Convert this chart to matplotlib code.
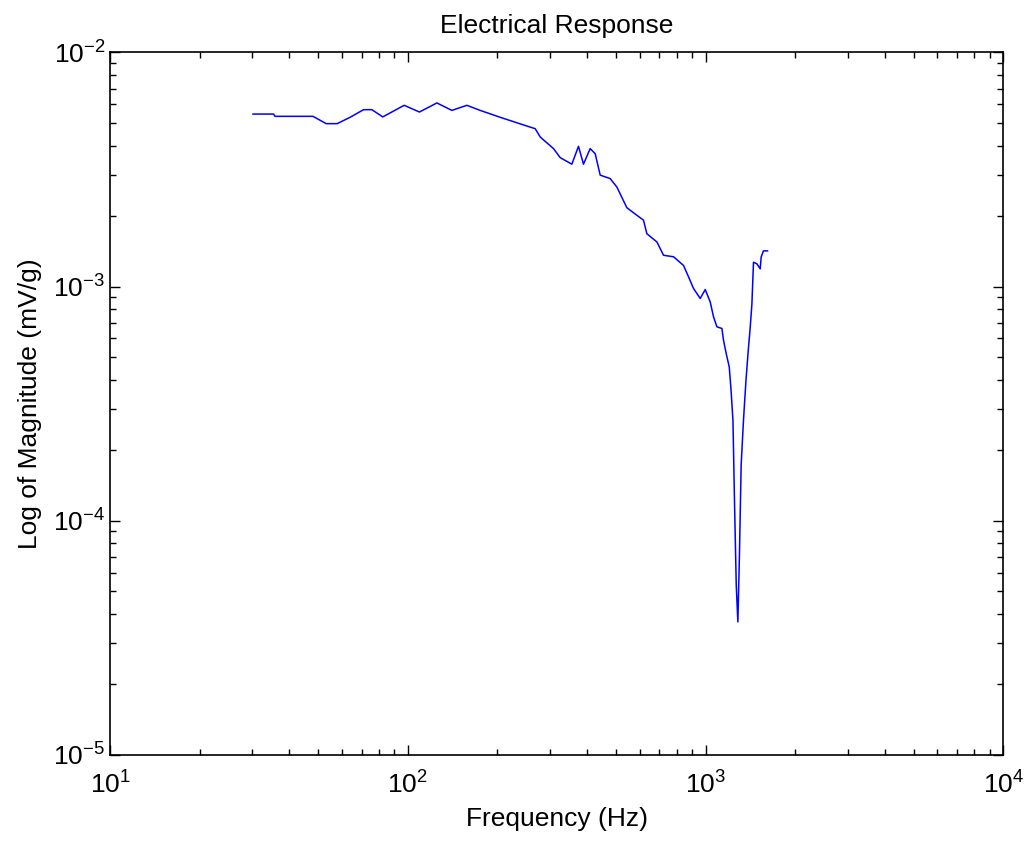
import numpy as np
import matplotlib
matplotlib.use('Agg')
import matplotlib.pyplot as plt

# frequency (Hz) and magnitude (mV/g)
freq = [30.2, 35.4, 35.8, 48.0, 53.2, 57.9, 64.0, 71.0, 75.7, 82.4,
        97.2, 109.4, 125.2, 140.6, 157.9, 175.0, 204.3, 238.4, 267.8, 278.4,
        308.6, 325.0, 355.6, 374.3, 389.0, 409.7, 425.9, 442.7, 478.2, 503.6,
        544.2, 580.3, 618.8, 635.3, 686.5, 722.5, 780.6, 843.4, 876.7, 911.2,
        959.6, 997.5, 1036.8, 1063.7, 1092, 1135, 1149, 1173, 1201, 1217,
        1236, 1251, 1268, 1284, 1300, 1317, 1341, 1366, 1388, 1413,
        1431, 1449, 1488, 1526, 1538, 1565, 1615]
mag = [5.45e-3, 5.45e-3, 5.33e-3, 5.33e-3, 4.96e-3, 4.96e-3, 5.28e-3, 5.69e-3, 5.69e-3, 5.30e-3,
       5.94e-3, 5.56e-3, 6.08e-3, 5.65e-3, 5.94e-3, 5.65e-3, 5.28e-3, 4.95e-3, 4.72e-3, 4.35e-3,
       3.88e-3, 3.55e-3, 3.33e-3, 3.97e-3, 3.33e-3, 3.88e-3, 3.69e-3, 2.99e-3, 2.89e-3, 2.66e-3,
       2.17e-3, 2.04e-3, 1.92e-3, 1.68e-3, 1.55e-3, 1.36e-3, 1.34e-3, 1.23e-3, 1.10e-3, 9.81e-4,
       8.89e-4, 9.71e-4, 8.59e-4, 7.42e-4, 6.73e-4, 6.62e-4, 5.90e-4, 5.18e-4, 4.54e-4, 3.67e-4,
       2.69e-4, 1.205e-4, 5.31e-5, 3.70e-5, 7.26e-5, 1.73e-4, 2.69e-4, 3.92e-4, 5.14e-4, 6.73e-4,
       8.40e-4, 1.27e-3, 1.25e-3, 1.19e-3, 1.34e-3, 1.42e-3, 1.42e-3]

plt.rcParams['font.family'] = ['Liberation Sans', 'DejaVu Sans']
plt.rcParams['mathtext.fontset'] = 'custom'
plt.rcParams['mathtext.rm'] = 'Liberation Sans'

fig = plt.figure(figsize=(10.29, 8.44), dpi=100)
ax = fig.add_axes([0.107, 0.1055, 0.868, 0.8325])

ax.loglog(freq, mag, color='#0000ff', lw=1.1)
ax.set_xlim(10, 1e4)
ax.set_ylim(1e-5, 1e-2)

ax.set_title('Electrical Response', fontsize=19, pad=14)
ax.set_xlabel('Frequency (Hz)', fontsize=19, labelpad=6)
ax.set_ylabel('Log of Magnitude (mV/g)', fontsize=19, labelpad=8)

ax.tick_params(which='both', direction='in', top=True, right=True, labelsize=19)
ax.tick_params(which='major', length=7, width=1)
ax.tick_params(which='minor', length=4, width=1)
ax.tick_params(axis='x', pad=12)
for s in ax.spines.values():
    s.set_linewidth(1.2)

fig.savefig('out.png', dpi=100)
